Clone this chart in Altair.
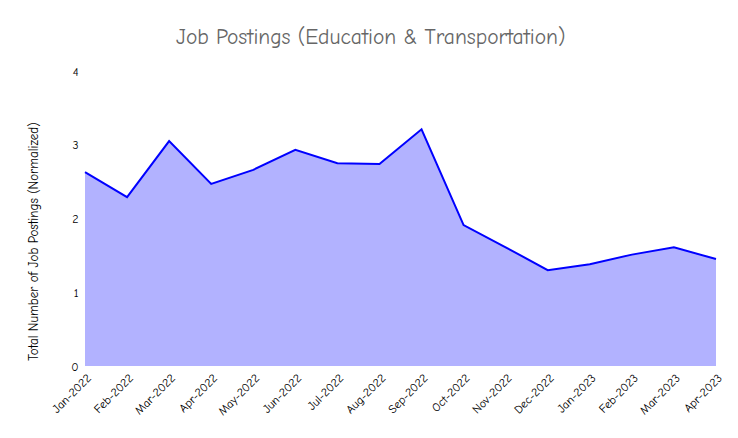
import altair as alt
import pandas as pd

months = ["Jan-2022", "Feb-2022", "Mar-2022", "Apr-2022", "May-2022", "Jun-2022",
          "Jul-2022", "Aug-2022", "Sep-2022", "Oct-2022", "Nov-2022", "Dec-2022",
          "Jan-2023", "Feb-2023", "Mar-2023", "Apr-2023"]
postings = [2.63, 2.29, 3.05, 2.47, 2.66, 2.93, 2.75, 2.74, 3.21, 1.91, 1.61, 1.30,
            1.38, 1.51, 1.61, 1.45]

df = pd.DataFrame({"month": months, "value": postings})

FONT = "Comic Sans MS, Comic Neue, Lato, sans-serif"

x = alt.X("month:N", sort=months, title=None,
          scale=alt.Scale(type="point", padding=0),
          axis=alt.Axis(labelAngle=-45, labelAlign="right", labelBaseline="top",
                        labelPadding=6, ticks=False, domain=False, grid=False,
                        labelFont=FONT, labelFontSize=12, labelColor="#000"))
y = alt.Y("value:Q", title="Total Number of Job Postings (Normalized)",
          scale=alt.Scale(domain=[0, 4], nice=False),
          axis=alt.Axis(values=[0, 1, 2, 3, 4], ticks=False, domain=False, grid=False,
                        labelPadding=7, labelFont=FONT, labelFontSize=12, labelColor="#000",
                        titleFont=FONT, titleFontSize=13, titleFontWeight="normal",
                        titleColor="#000", titlePadding=30, titleY=170))

area = alt.Chart(df).mark_area(color="#0000ff", opacity=0.3).encode(x=x, y=y)
line = alt.Chart(df).mark_line(color="#0000ff", strokeWidth=2).encode(x=x, y=y)

chart = (area + line).properties(
    width=631, height=295,
    title=alt.TitleParams("Job Postings (Education & Transportation)", font=FONT,
                          fontSize=21.5, fontWeight="normal", color="#666666",
                          anchor="middle", frame="bounds", offset=17, dx=-5),
    autosize=alt.AutoSizeParams(type="none"),
    padding={"left": 77, "top": 63, "right": 14, "bottom": 64},
).configure_view(stroke=None)

chart.save("out.html", embed_options={"renderer": "svg", "actions": False})
